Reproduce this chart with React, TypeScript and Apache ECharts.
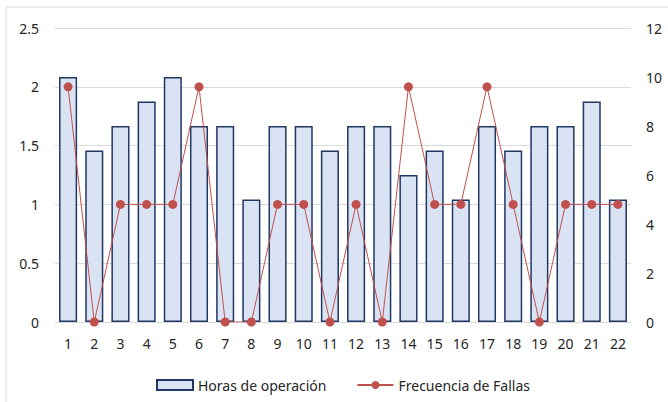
import React, { useEffect, useRef } from "react";
import * as echarts from "echarts";

const categories = ["1","2","3","4","5","6","7","8","9","10","11","12","13","14","15","16","17","18","19","20","21","22"];
const horasOperacion = [10, 7, 8, 9, 10, 8, 8, 5, 8, 8, 7, 8, 8, 6, 7, 5, 8, 7, 8, 8, 9, 5];
const frecuenciaFallas = [2, 0, 1, 1, 1, 2, 0, 0, 1, 1, 0, 1, 0, 2, 1, 1, 2, 1, 0, 1, 1, 1];

const FONT = "Noto Sans";
const TEXT = "#262626";

export default function App() {
  const ref = useRef<HTMLDivElement>(null);
  useEffect(() => {
    if (!ref.current) return;
    const chart = echarts.init(ref.current, undefined, { renderer: "svg" });
    chart.setOption({
      animation: false,
      backgroundColor: "#ffffff",
      textStyle: { fontFamily: FONT },
      graphic: [
        {
          type: "rect",
          shape: { x: 6, y: 7, width: 720, height: 460 },
          style: { fill: "none", stroke: "#D9D9D9", lineWidth: 1 },
          silent: true,
        },
      ],
      grid: { left: 55, right: 37, top: 28, bottom: 80, containLabel: false },
      legend: {
        left: 151,
        top: 373,
        itemWidth: 36,
        itemHeight: 10,
        itemGap: 30,
        textStyle: { fontFamily: FONT, fontSize: 14, color: TEXT },
        data: [
          { name: "Horas de operación", icon: "rect" },
          { name: "Frecuencia de Fallas" },
        ],
      },
      xAxis: {
        type: "category",
        data: categories,
        axisLine: { show: true, lineStyle: { color: "#D9D9D9", width: 1 } },
        axisTick: { show: false },
        axisLabel: { fontFamily: FONT, fontSize: 14, color: TEXT, margin: 14 },
      },
      yAxis: [
        {
          type: "value",
          min: 0,
          max: 2.5,
          interval: 0.5,
          axisLine: { show: false },
          axisTick: { show: false },
          splitLine: { lineStyle: { color: "#D9D9D9", width: 1 } },
          axisLabel: { fontFamily: FONT, fontSize: 14, color: TEXT, margin: 16 },
        },
        {
          type: "value",
          min: 0,
          max: 12,
          interval: 2,
          position: "right",
          axisLine: { show: false },
          axisTick: { show: false },
          splitLine: { show: false },
          axisLabel: { fontFamily: FONT, fontSize: 14, color: TEXT, margin: 15 },
        },
      ],
      series: [
        {
          name: "Horas de operación",
          type: "bar",
          yAxisIndex: 1,
          data: horasOperacion,
          barCategoryGap: "31%",
          itemStyle: { color: "#DAE3F3", borderColor: "#1F3864", borderWidth: 1.5 },
          z: 2,
        },
        {
          name: "Frecuencia de Fallas",
          type: "line",
          yAxisIndex: 0,
          data: frecuenciaFallas,
          symbol: "circle",
          symbolSize: 9,
          lineStyle: { color: "#C0504D", width: 1 },
          itemStyle: { color: "#C0504D" },
          z: 3,
        },
      ],
    });
    return () => chart.dispose();
  }, []);
  return (
    <div
      ref={ref}
      style={{ position: "fixed", left: 0, top: 0, width: 668, height: 402, background: "#fff" }}
    />
  );
}
